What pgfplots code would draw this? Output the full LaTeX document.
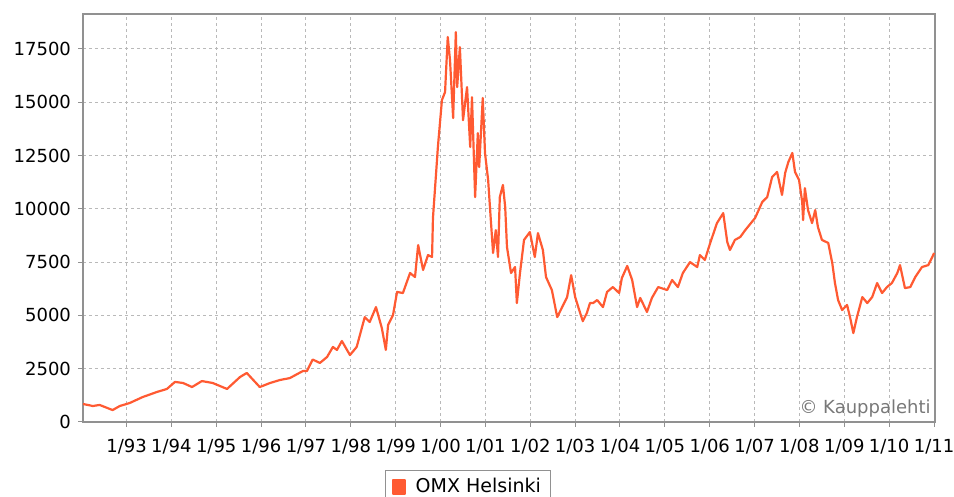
\documentclass[border=0pt]{standalone}
\usepackage{fontspec}
\setmainfont{DejaVu Sans}
\usepackage{pgfplots}
\usepackage{pgfplotstable}
\pgfplotsset{compat=1.18}
\definecolor{omx}{RGB}{255,90,50}
\definecolor{gridc}{RGB}{185,185,185}
\definecolor{axc}{RGB}{145,145,145}
\pgfplotstableread{
year value
1992.03 845
1992.25 750
1992.40 800
1992.69 560
1992.85 750
1993.07 890
1993.36 1170
1993.68 1410
1993.90 1550
1994.08 1880
1994.26 1830
1994.46 1640
1994.68 1920
1994.92 1830
1995.24 1550
1995.53 2110
1995.68 2300
1995.97 1640
1996.20 1830
1996.42 1970
1996.64 2060
1996.93 2390
1997.02 2390
1997.15 2930
1997.31 2770
1997.47 3050
1997.60 3520
1997.69 3380
1997.80 3800
1997.98 3140
1998.13 3520
1998.31 4920
1998.42 4690
1998.56 5390
1998.69 4410
1998.78 3380
1998.83 4550
1998.94 5020
1999.03 6100
1999.16 6050
1999.32 6990
1999.43 6800
1999.50 8300
1999.61 7130
1999.72 7830
1999.81 7740
1999.83 9570
1999.90 11680
1999.94 12900
2000.03 15100
2000.10 15480
2000.12 16370
2000.16 18060
2000.21 16980
2000.28 14260
2000.34 18290
2000.37 15710
2000.43 17590
2000.50 14160
2000.59 15710
2000.66 12900
2000.70 15240
2000.77 10550
2000.83 13550
2000.86 11960
2000.94 15200
2000.99 12620
2001.06 11350
2001.12 9470
2001.17 7930
2001.23 9000
2001.28 7740
2001.32 10550
2001.39 11120
2001.44 10080
2001.48 8210
2001.57 6990
2001.66 7270
2001.70 5580
2001.77 6990
2001.86 8540
2001.99 8910
2002.10 7740
2002.17 8860
2002.28 8070
2002.35 6800
2002.48 6190
2002.60 4920
2002.71 5390
2002.82 5860
2002.91 6890
2003.00 5860
2003.09 5250
2003.17 4730
2003.26 5110
2003.33 5580
2003.40 5580
2003.49 5720
2003.62 5390
2003.71 6100
2003.84 6330
2003.98 6050
2004.04 6750
2004.16 7320
2004.27 6660
2004.38 5390
2004.45 5820
2004.60 5160
2004.71 5820
2004.85 6330
2005.05 6190
2005.16 6660
2005.29 6330
2005.40 6990
2005.56 7500
2005.72 7270
2005.78 7830
2005.89 7600
2006.01 8400
2006.16 9330
2006.30 9800
2006.39 8440
2006.45 8070
2006.56 8540
2006.68 8680
2006.79 9000
2007.01 9570
2007.17 10320
2007.28 10550
2007.39 11490
2007.50 11730
2007.61 10650
2007.68 11680
2007.75 12190
2007.84 12620
2007.90 11730
2007.99 11350
2008.06 10320
2008.08 9470
2008.12 10970
2008.19 9940
2008.28 9330
2008.35 9940
2008.41 9150
2008.50 8540
2008.64 8400
2008.73 7460
2008.79 6520
2008.86 5720
2008.95 5250
2009.06 5490
2009.13 4880
2009.20 4170
2009.28 4920
2009.40 5860
2009.51 5580
2009.62 5860
2009.73 6520
2009.84 6050
2009.95 6330
2010.06 6520
2010.18 6990
2010.24 7360
2010.35 6280
2010.47 6330
2010.58 6800
2010.73 7270
2010.87 7360
2010.96 7740
2011.00 7930
}\omxdata
\begin{document}
\begin{tikzpicture}
\begin{axis}[
  scale only axis, width=426pt, height=204pt,
  xmin=1992.03, xmax=2011.02, ymin=0, ymax=19140,
  xtick={1993,...,2011},
  xticklabels={1/93,1/94,1/95,1/96,1/97,1/98,1/99,1/00,1/01,1/02,1/03,1/04,1/05,1/06,1/07,1/08,1/09,1/10,1/11},
  ytick={0,2500,...,17500},
  scaled y ticks=false,
  grid=major,
  grid style={gridc, dash pattern=on 1.5pt off 1.5pt, line width=0.5pt},
  axis line style={axc, line width=0.8pt},
  tick style={axc, line width=0.5pt},
  tick align=outside, major tick length=2.5pt,
  tick pos=left,
  ticklabel style={font=\fontsize{9}{10}\selectfont, black},
  xticklabel style={yshift=-2.5pt},
  /pgf/number format/1000 sep={},
  /pgf/number format/assume math mode=true,
  legend style={at={(axis description cs:0.3545,-0.1176)}, anchor=north west,
    draw=axc, line width=0.5pt, font=\fontsize{9.5}{11}\selectfont,
    inner xsep=3pt, inner ysep=2pt},
  legend image code/.code={\fill[omx] (0pt,-3.4pt) rectangle (6.2pt,3.4pt); \path (9pt,0pt);},
]
\addplot[omx, line width=1.1pt, line join=round] table[x=year, y=value] {\omxdata};
\addlegendentry{OMX Helsinki}
\coordinate (bl) at (rel axis cs:0,0);
\node[anchor=south east, text={rgb,255:red,120;green,120;blue,120}, font=\fontsize{9}{10}\selectfont, inner sep=2pt] at (rel axis cs:1,0) {\textcopyright\ Kauppalehti};
\end{axis}
\pgfresetboundingbox
\path[use as bounding box] (bl) ++(-41.5pt,-37.5pt) rectangle ++(477pt,248.5pt);
\end{tikzpicture}
\end{document}
